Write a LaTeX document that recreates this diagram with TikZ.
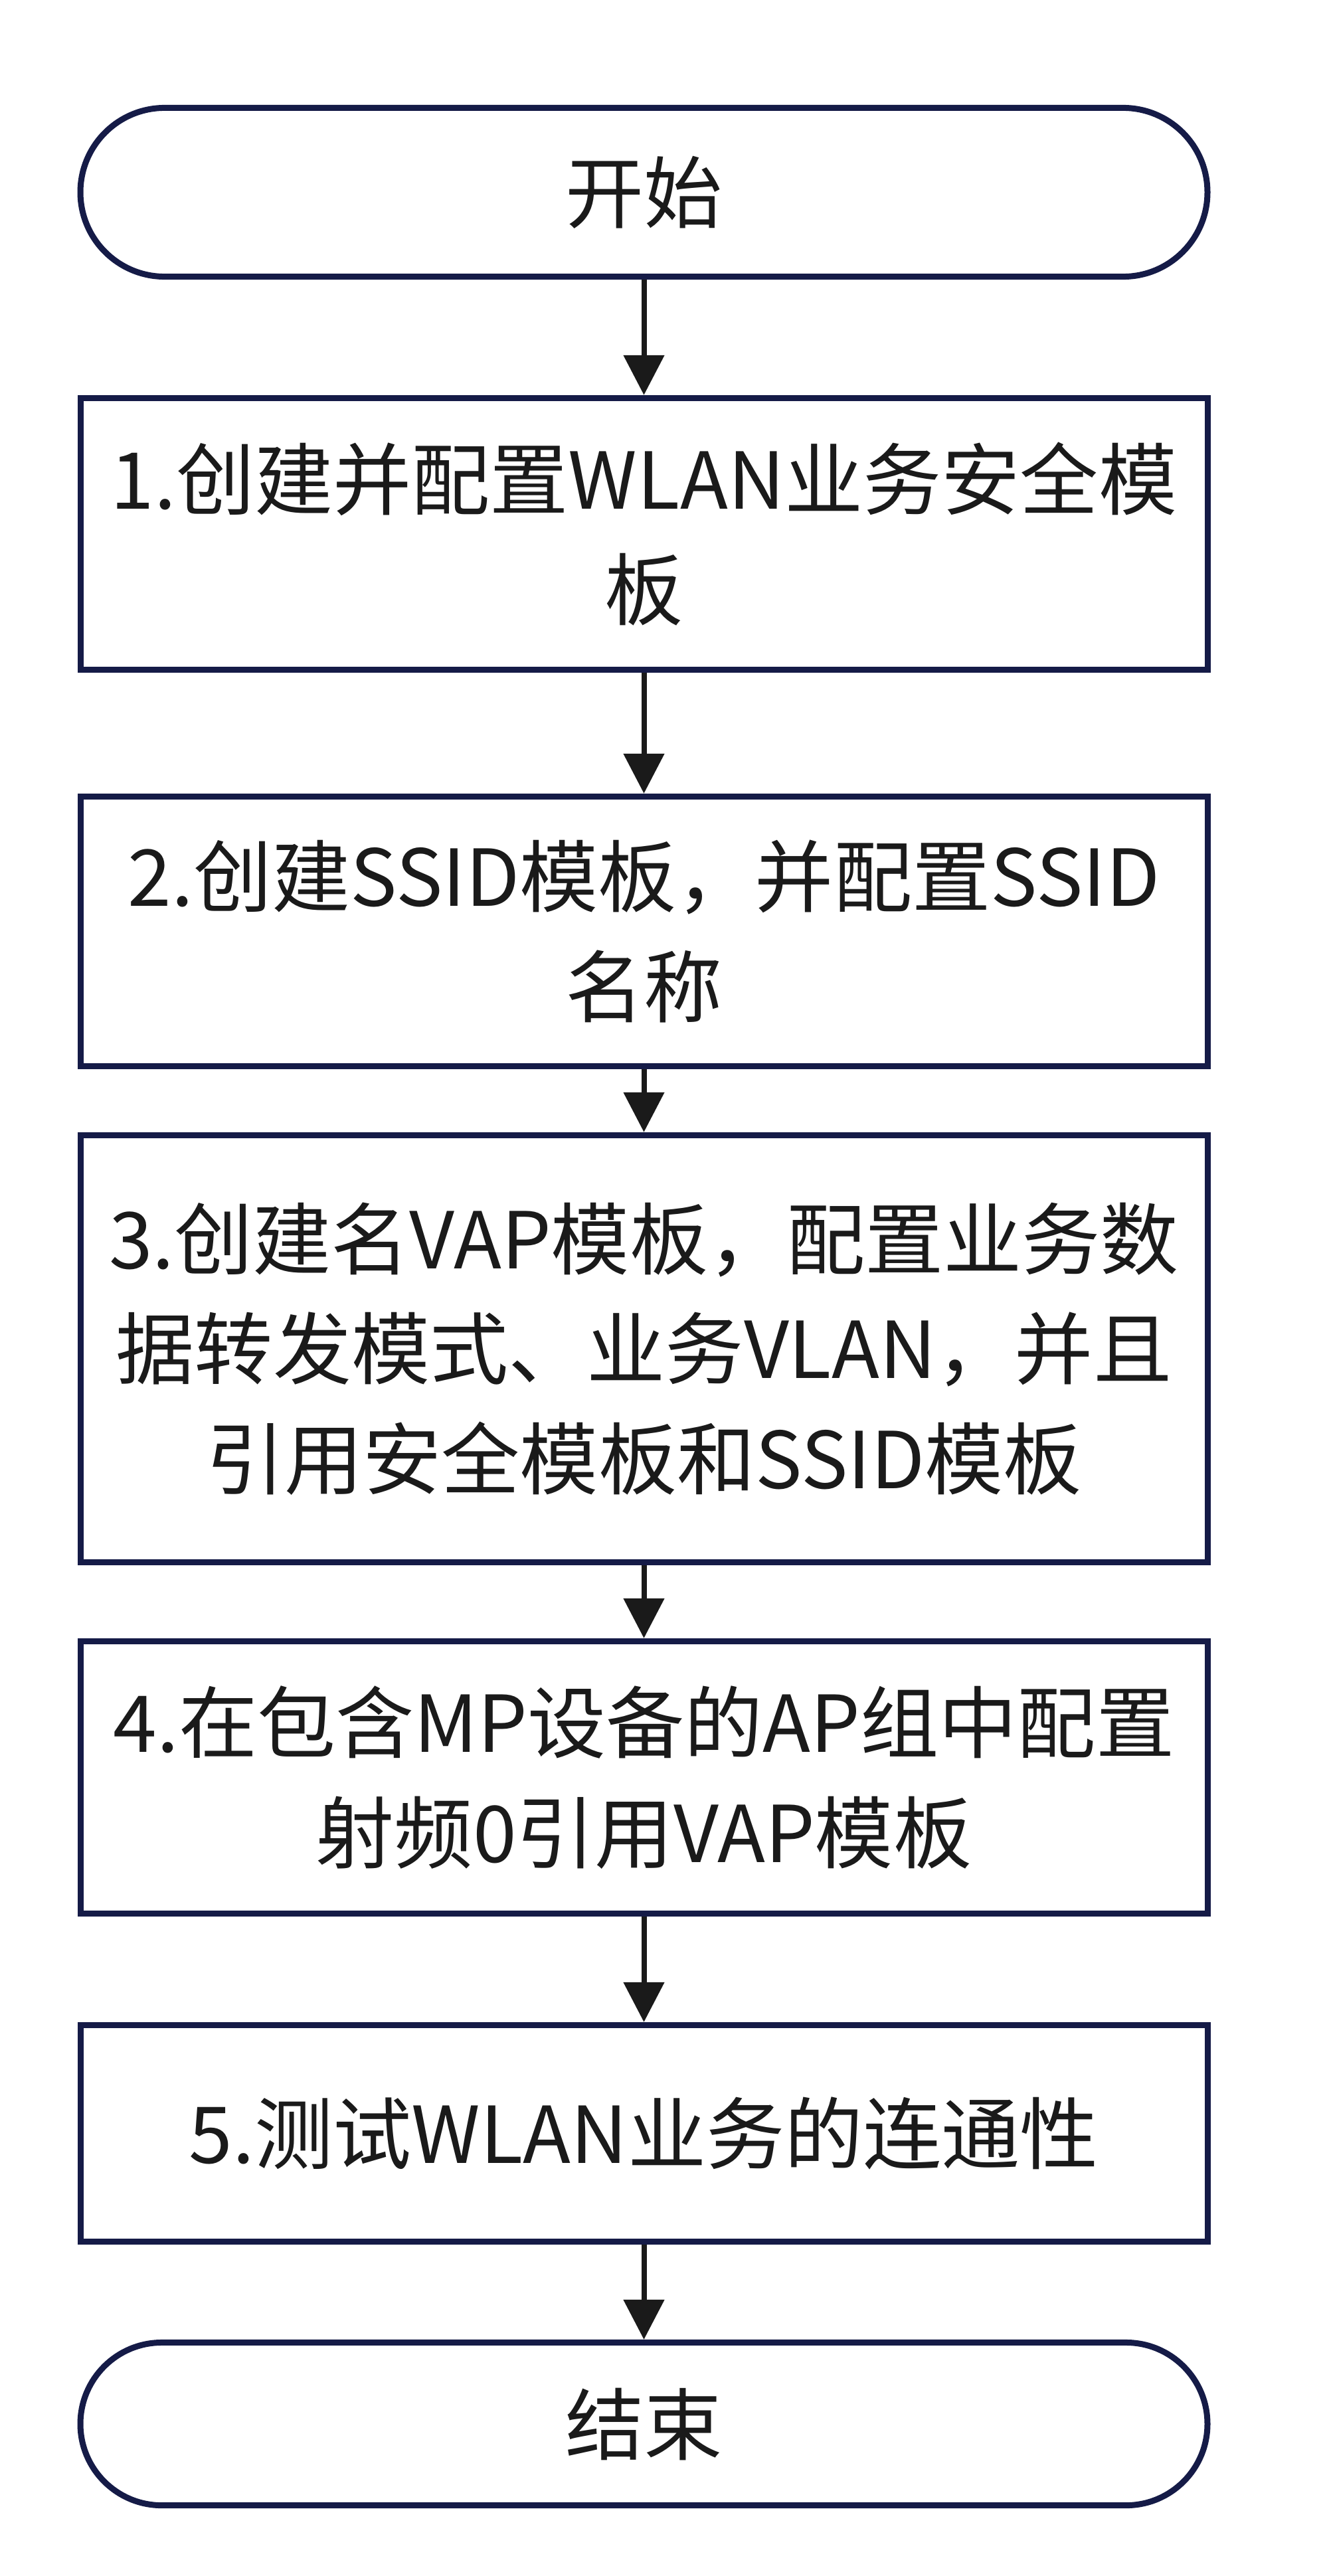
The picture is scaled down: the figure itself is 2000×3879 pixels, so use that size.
\documentclass[tikz,border=0pt]{standalone}
\usepackage{fontspec}
\setmainfont{Noto Sans CJK SC}
\usetikzlibrary{arrows.meta}
\definecolor{navy}{HTML}{151B47}
\definecolor{ink}{HTML}{1A1A1A}
\begin{document}
\begin{tikzpicture}[x=0.01cm,y=-0.01cm,
  box/.style={draw=navy, line width=0.09cm, fill=white, minimum width=16.96cm,
    inner sep=0pt, align=center, text=ink, font=\fontsize{33.6}{47}\selectfont},
  term/.style={box, rounded corners=#1},
  arr/.style={draw=ink, line width=0.08cm, -{Triangle[length=0.6cm,width=0.6cm]}}]
\useasboundingbox[fill=white] (0,0) rectangle (2000,3879);
\node[term=1.27cm, minimum height=2.54cm] (start) at (969.5,289.5) {开始};
\node[box, minimum height=4.09cm] (s1) at (969.5,804) {1.创建并配置WLAN业务安全模\\板};
\node[box, minimum height=4.06cm] (s2) at (969.5,1402.5) {2.创建SSID模板，并配置SSID\\名称};
\node[box, minimum height=6.43cm] (s3) at (969.5,2031) {3.创建名VAP模板，配置业务数\\据转发模式、业务VLAN，并且\\引用安全模板和SSID模板};
\node[box, minimum height=4.10cm] (s4) at (969.5,2676.5) {4.在包含MP设备的AP组中配置\\射频0引用VAP模板};
\node[box, minimum height=3.26cm] (s5) at (969.5,3212.5) {5.测试WLAN业务的连通性};
\node[term=1.225cm, minimum height=2.45cm] (end) at (969.5,3650) {结束};
\draw[arr] (start.south) -- (s1.north);
\draw[arr] (s1.south) -- (s2.north);
\draw[arr] (s2.south) -- (s3.north);
\draw[arr] (s3.south) -- (s4.north);
\draw[arr] (s4.south) -- (s5.north);
\draw[arr] (s5.south) -- (end.north);
\end{tikzpicture}
\end{document}
